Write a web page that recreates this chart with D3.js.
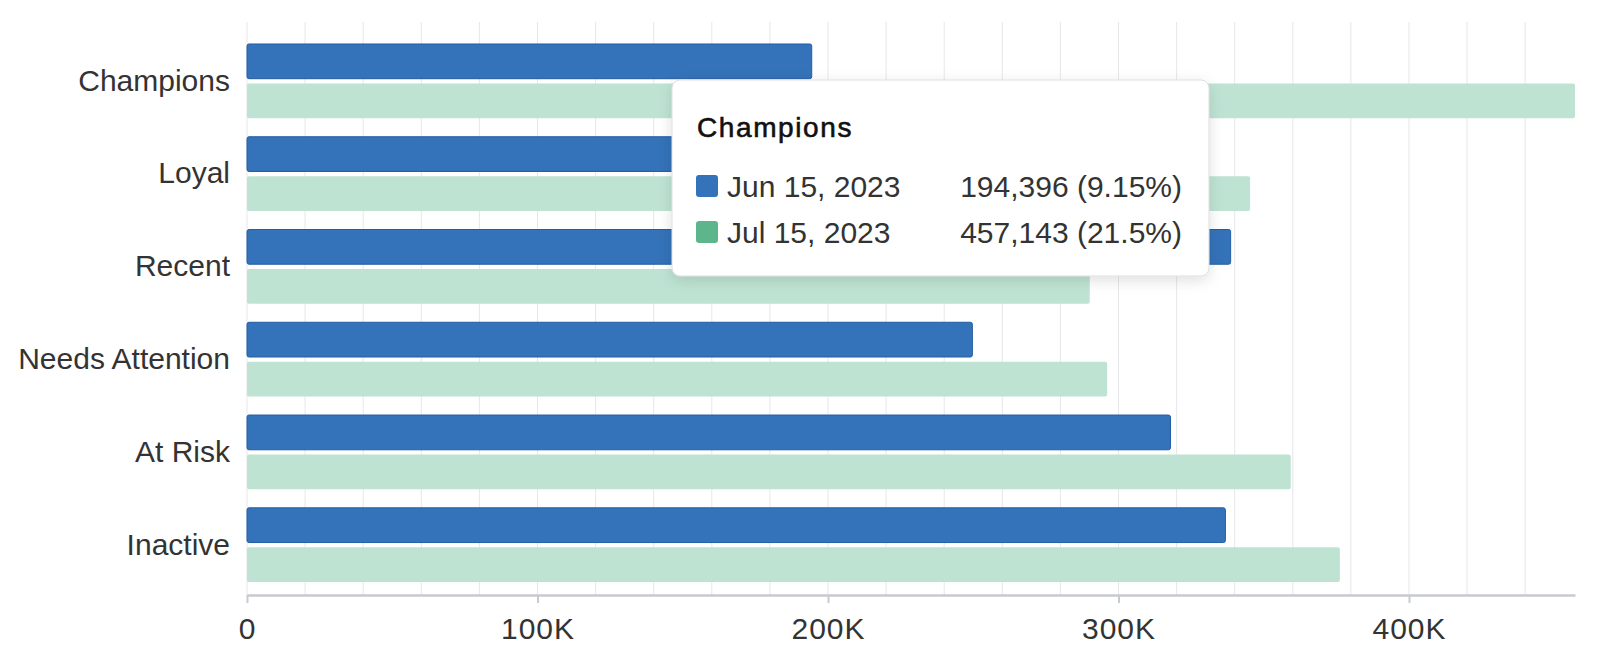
<!DOCTYPE html>
<html>
<head>
<meta charset="utf-8">
<script src="https://cdn.jsdelivr.net/npm/d3@7"></script>
<style>
  body { margin: 0; background: #fff; }
  svg { display: block; font-family: "Liberation Sans", Arial, sans-serif; }
</style>
</head>
<body>
<div id="chart"></div>
<script>
// data
var categories = ["Champions", "Loyal", "Recent", "Needs Attention", "At Risk", "Inactive"];
var seriesNames = ["Jun 15, 2023", "Jul 15, 2023"];
var junValues = [194396, 290000, 338600, 249700, 317900, 336800];
var julValues = [457143, 345300, 290100, 296100, 359300, 376200];
var junShare = [9.15, null, null, null, null, null];
var julShare = [21.5, null, null, null, null, null];
var xTicks = [0, 100000, 200000, 300000, 400000];
var tickLabels = ["0", "100K", "200K", "300K", "400K"];

var seriesColors = ["#3472b9", "#bee3d3"];
var swatchColors = ["#3472b9", "#5db58c"];

var width = 1600, height = 668;
var axisY = 595;

var svg = d3.select("#chart").append("svg")
    .attr("width", width)
    .attr("height", height);

var x = d3.scaleLinear()
    .domain([0, d3.max(julValues.concat(junValues))])
    .range([247, 1575]);

var y0 = d3.scaleBand()
    .domain(categories)
    .range([34.7, 591.3])
    .paddingInner(0.2)
    .paddingOuter(0.1);

var y1 = d3.scaleBand()
    .domain(seriesNames)
    .range([0, y0.bandwidth()])
    .paddingInner(0.12);

var rows = categories.map(function(c, i) {
  return {cat: c, vals: [junValues[i], julValues[i]]};
});

// grid every 20K
svg.append("g")
    .selectAll("line")
    .data(d3.range(0, 460000, 20000))
    .enter().append("line")
    .attr("x1", d => x(d)).attr("x2", d => x(d))
    .attr("y1", 22).attr("y2", axisY)
    .attr("stroke", "#e6e7eb")
    .attr("stroke-width", 1);

// bars
var groups = svg.append("g")
    .selectAll("g")
    .data(rows)
    .enter().append("g")
    .attr("transform", d => "translate(0," + y0(d.cat) + ")");

groups.selectAll("rect")
    .data(d => d.vals.map(function(v, j) { return {name: seriesNames[j], v: v, j: j}; }))
    .enter().append("rect")
    .attr("x", x(0))
    .attr("y", d => y1(d.name))
    .attr("width", d => x(d.v) - x(0))
    .attr("height", y1.bandwidth())
    .attr("rx", 2)
    .attr("fill", d => seriesColors[d.j])
    .attr("stroke", d => d.j === 0 ? "#225ea3" : "none")
    .attr("stroke-width", 1);

// x axis
var xAxis = d3.axisBottom(x)
    .tickValues(xTicks)
    .tickFormat((d, i) => tickLabels[i])
    .tickSize(8)
    .tickSizeOuter(0)
    .tickPadding(15);

var gx = svg.append("g")
    .attr("transform", "translate(0," + axisY + ")")
    .call(xAxis);
gx.select(".domain").attr("stroke", "#c7cad1").attr("stroke-width", 2.7);
gx.selectAll(".tick line").attr("stroke", "#c7cad1").attr("stroke-width", 2);
gx.selectAll(".tick text")
    .attr("font-size", 30)
    .attr("letter-spacing", 1)
    .attr("fill", "#333")
    .attr("font-family", "Liberation Sans, Arial, sans-serif");

// y labels
var yAxis = d3.axisLeft(y0).tickSize(0).tickPadding(17);
var gy = svg.append("g")
    .attr("transform", "translate(247,0)")
    .call(yAxis);
gy.select(".domain").remove();
gy.selectAll(".tick text")
    .attr("font-size", 30)
    .attr("fill", "#333")
    .attr("font-family", "Liberation Sans, Arial, sans-serif");

// tooltip for the first category
var fmt = d3.format(",");
var defs = svg.append("defs");
var filt = defs.append("filter").attr("id", "shadow")
    .attr("x", "-10%").attr("y", "-10%").attr("width", "120%").attr("height", "130%");
filt.append("feDropShadow")
    .attr("dx", 0).attr("dy", 4).attr("stdDeviation", 7)
    .attr("flood-color", "#000").attr("flood-opacity", 0.12);

var tip = svg.append("g").attr("transform", "translate(672,80)");
tip.append("rect")
    .attr("width", 537).attr("height", 196)
    .attr("rx", 8)
    .attr("fill", "#fff")
    .attr("stroke", "#dcdde2")
    .attr("stroke-width", 1)
    .attr("filter", "url(#shadow)");
tip.append("text")
    .attr("x", 25).attr("y", 57)
    .attr("font-size", 28)
    .attr("letter-spacing", 1.6)
    .attr("fill", "#111")
    .attr("stroke", "#111")
    .attr("stroke-width", 0.6)
    .text(categories[0]);

var tipRows = [
  {name: seriesNames[0], v: junValues[0], p: junShare[0]},
  {name: seriesNames[1], v: julValues[0], p: julShare[0]}
];
var tr = tip.selectAll(".row")
    .data(tipRows)
    .enter().append("g")
    .attr("transform", (d, i) => "translate(0," + (106 + i * 46) + ")");
tr.append("rect")
    .attr("x", 24).attr("y", -11)
    .attr("width", 22).attr("height", 22)
    .attr("rx", 3)
    .attr("fill", (d, i) => swatchColors[i]);
tr.append("text")
    .attr("x", 55).attr("y", 0)
    .attr("dy", "0.35em")
    .attr("font-size", 30)
    .attr("fill", "#333")
    .text(d => d.name);
tr.append("text")
    .attr("x", 510).attr("y", 0)
    .attr("dy", "0.35em")
    .attr("text-anchor", "end")
    .attr("font-size", 30)
    .attr("fill", "#333")
    .text(d => fmt(d.v) + " (" + d.p + "%)");
</script>
</body>
</html>
